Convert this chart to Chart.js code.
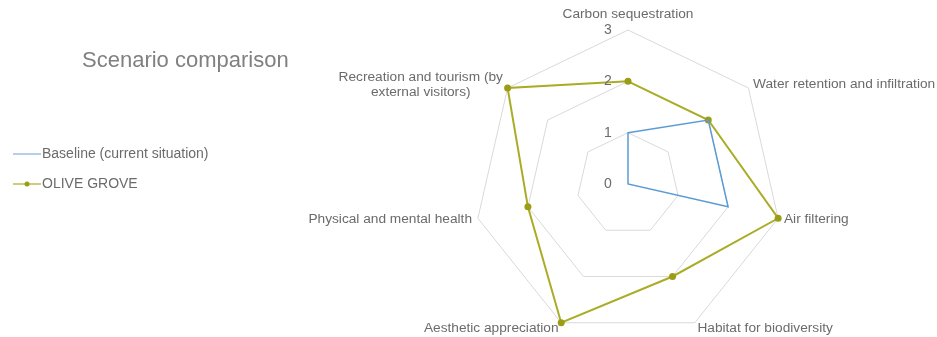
<!DOCTYPE html>
<html lang="en">
<head>
    <meta charset="UTF-8">
    <title>Scenario comparison</title>
    <script src="https://cdn.jsdelivr.net/npm/chart.js@4.4.1/dist/chart.umd.min.js"></script>
    <style>
        html, body { margin: 0; padding: 0; background: #fff; overflow: hidden; }
        body { width: 937px; height: 337px; position: relative; }
        .titulo {
            position: absolute; left: 82px; top: 47px;
            font: 22px "Liberation Sans", Arial, sans-serif; line-height: 26px;
            color: #808080; z-index: 2;
        }
        .lienzo { position: absolute; left: 0; top: 0; width: 1060px; height: 372px; }
    </style>
</head>
<body>
    <div class="titulo">Scenario comparison</div>
    <div class="lienzo"><canvas id="radar"></canvas></div>

    <script>
    // datos del grafico
    const categories = [
        'Carbon sequestration',
        'Water retention and infiltration',
        'Air filtering',
        'Habitat for biodiversity',
        'Aesthetic appreciation',
        'Physical and mental health',
        ['Recreation and tourism (by', 'external visitors)']
    ];
    const seriesNames = ['Baseline (current situation)', 'OLIVE GROVE'];
    const baseline = [1, 2, 2, 0, 0, 0, 0];
    const oliveGrove = [2, 2, 3, 2, 3, 2, 3];
    const tickValues = [0, 1, 2, 3];

    const AZUL = '#5b9bd5';
    const OLIVA = '#aaac26';
    const OLIVA_PUNTO = '#9c9d16';
    const GRIS_TEXTO = '#6b6b6b';
    const FUENTE = '"Liberation Sans", Arial, sans-serif';

    Chart.defaults.font.family = FUENTE;
    Chart.defaults.font.size = 14;
    Chart.defaults.color = GRIS_TEXTO;

    // pequeños iconos para la leyenda (linea, linea con punto)
    function iconoLinea(color, conPunto) {
        const c = document.createElement('canvas');
        c.width = 28; c.height = 10;
        const g = c.getContext('2d');
        g.strokeStyle = color;
        g.lineWidth = 1.2;
        g.beginPath(); g.moveTo(0, 5); g.lineTo(28, 5); g.stroke();
        if (conPunto) {
            g.fillStyle = OLIVA_PUNTO;
            g.beginPath(); g.arc(14, 5, 2.5, 0, Math.PI * 2); g.fill();
        }
        return c;
    }
    const iconos = [iconoLinea('#7fb1e0', false), iconoLinea(OLIVA, true)];

    // etiquetas de ejes y de valores al estilo Excel
    const etiquetasEjes = {
        id: 'etiquetasEjes',
        afterDraw(chart) {
            const scale = chart.scales.r;
            const ctx = chart.ctx;
            ctx.save();
            ctx.font = '13.7px ' + FUENTE;
            ctx.fillStyle = GRIS_TEXTO;
            ctx.textAlign = 'center';
            ctx.textBaseline = 'middle';
            categories.forEach((label, i) => {
                const lineas = [].concat(label);
                const pos = scale.getPointPosition(i, scale.drawingArea + 6);
                const grados = Math.round(scale.getIndexAngle(i) * 180 / Math.PI) % 360;
                const ancho = Math.max(...lineas.map(l => ctx.measureText(l).width));
                let cx = pos.x;
                if (grados > 0 && grados < 180) cx = pos.x + ancho / 2;
                else if (grados > 180) cx = pos.x - ancho / 2;
                let cy = pos.y;
                if (grados === 0) cy -= 10;
                lineas.forEach((l, j) => {
                    ctx.fillText(l, cx, cy + (j - (lineas.length - 1) / 2) * 15);
                });
            });
            // valores del eje, a la izquierda del eje vertical
            ctx.font = '14px ' + FUENTE;
            tickValues.forEach(v => {
                const d = scale.getDistanceFromCenterForValue(v);
                ctx.fillText(String(v), scale.xCenter - 20, scale.yCenter - d);
            });
            ctx.restore();
        }
    };

    const ctx = document.getElementById('radar').getContext('2d');
    const grafico = new Chart(ctx, {
        type: 'radar',
        data: {
            labels: categories,
            datasets: [{
                label: seriesNames[0],
                data: baseline,
                borderColor: AZUL,
                backgroundColor: 'transparent',
                borderWidth: 1.5,
                pointRadius: 0,
                fill: false
            }, {
                label: seriesNames[1],
                data: oliveGrove,
                borderColor: OLIVA,
                backgroundColor: OLIVA_PUNTO,
                borderWidth: 2,
                pointRadius: 3.5,
                pointBorderWidth: 0,
                fill: false
            }]
        },
        options: {
            responsive: true,
            maintainAspectRatio: false,
            animation: false,
            layout: { padding: { left: 3, top: 30, bottom: 34, right: 22 } },
            scales: {
                r: {
                    min: 0,
                    max: 3,
                    angleLines: { display: false },
                    grid: { color: '#d9d9d9', lineWidth: 1 },
                    pointLabels: { display: false },
                    ticks: { stepSize: 1, display: false }
                }
            },
            plugins: {
                tooltip: { enabled: false },
                legend: {
                    position: 'left',
                    align: 'start',
                    title: { display: true, text: '', font: { size: 10 }, padding: { top: 89, bottom: 0 } },
                    labels: {
                        usePointStyle: true,
                        pointStyleWidth: 16,
                        padding: 16,
                        color: GRIS_TEXTO,
                        font: { size: 14 },
                        generateLabels: (chart) => {
                            const items = Chart.defaults.plugins.legend.labels.generateLabels(chart);
                            items.forEach((it, i) => { it.pointStyle = iconos[i]; });
                            return items;
                        }
                    }
                }
            }
        },
        plugins: [etiquetasEjes]
    });
    </script>
</body>
</html>
